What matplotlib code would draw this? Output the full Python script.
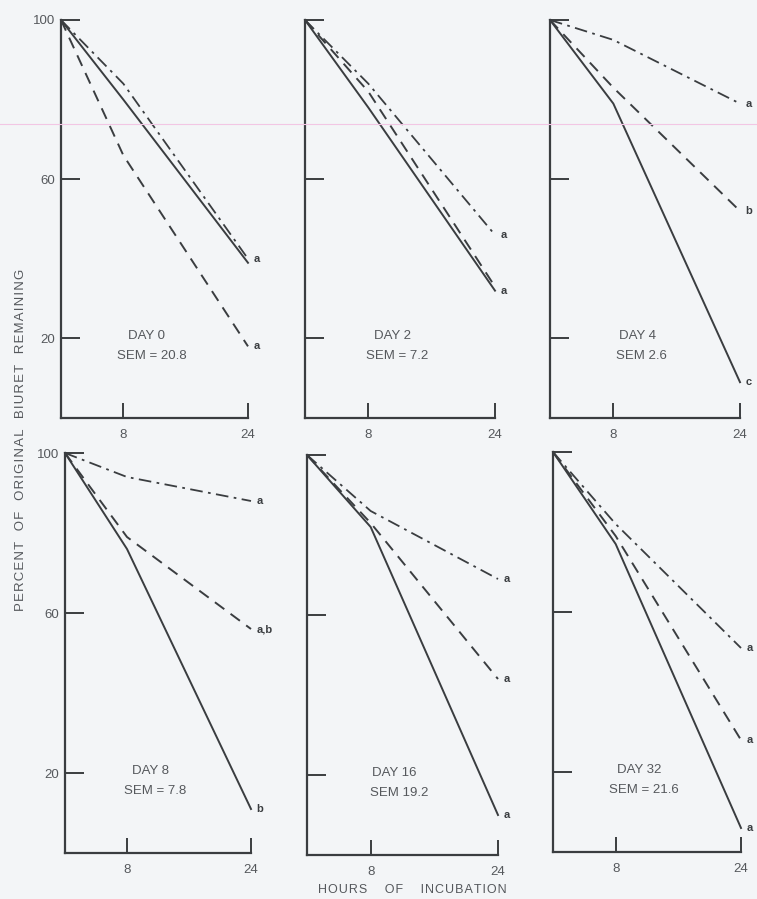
import matplotlib
matplotlib.use("Agg")
import matplotlib.pyplot as plt
from matplotlib.lines import Line2D

plt.rcParams['font.family'] = ['Liberation Sans', 'DejaVu Sans']

# hours of incubation
hours = [0, 8, 24]

# panel titles / SEM text
days = ["DAY 0", "DAY 2", "DAY 4", "DAY 8", "DAY 16", "DAY 32"]
sems = ["SEM = 20.8", "SEM = 7.2", "SEM 2.6", "SEM = 7.8", "SEM 19.2", "SEM = 21.6"]

# percent of original biuret remaining, one list per panel
solid = [[100, 80, 39], [100, 78, 32], [100, 79, 9],
         [100, 76, 11], [100, 82, 10], [100, 77, 6]]
dashed = [[100, 66, 18], [100, 82, 33], [100, 83, 52],
          [100, 79, 56], [100, 83, 44], [100, 79, 28]]
dashdot = [[100, 84, 40], [100, 84, 46], [100, 95, 79],
           [100, 94, 88], [100, 86, 69], [100, 82, 51]]

# significance letters at 24 h
lab_solid = ["", "a", "c", "b", "a", "a"]
lab_dashed = ["a", "", "b", "a,b", "a", "a"]
lab_dashdot = ["a", "a", "a", "a", "a", "a"]

bg = "#f3f5f7"
ink = "#3a3d40"
txt = "#55585c"


def spaced(s, wordgap):
    # slight letter spacing, wide word gaps like the typeset original
    return (" " * wordgap).join("\u200a".join(w) for w in s.split())


fig = plt.figure(figsize=(7.57, 8.99), dpi=100, facecolor=bg)

# axes positions in pixels (left, bottom_y_pixel, right, top_y_pixel)
W, H = 757, 899
boxes = [(61, 418, 248, 20), (305, 418, 495, 20), (550, 418, 740, 20),
         (65, 853, 251, 453), (307, 855, 498, 455), (553, 852, 741, 452)]

for i, (l, b, r, t) in enumerate(boxes):
    ax = fig.add_axes([l / W, (H - b) / H, (r - l) / W, (b - t) / H])
    ax.set_facecolor(bg)
    ax.set_xlim(0, 24)
    ax.set_ylim(0, 100)
    for s in ["top", "right"]:
        ax.spines[s].set_visible(False)
    for s in ["left", "bottom"]:
        ax.spines[s].set_color(ink)
        ax.spines[s].set_linewidth(1.6)

    ax.plot(hours, solid[i], color=ink, lw=1.4, ls="-", clip_on=False)
    ax.plot(hours, dashed[i], color=ink, lw=1.4, ls=(0, (6, 4)), clip_on=False)
    ax.plot(hours, dashdot[i], color=ink, lw=1.3, ls=(0, (7, 3, 1.5, 3)), clip_on=False)

    for vals, lab in [(solid[i], lab_solid[i]), (dashed[i], lab_dashed[i]),
                      (dashdot[i], lab_dashdot[i])]:
        if lab:
            ax.text(24.7, vals[-1], lab, fontsize=8, color=ink,
                    ha="left", va="center", fontweight="bold", clip_on=False)

    ax.set_xticks([8, 24])
    ax.set_xticklabels(["8", "24"])
    ax.set_yticks([100, 60, 20])
    if i % 3 == 0:
        ax.set_yticklabels(["100", "60", "20"])
    else:
        ax.set_yticklabels([])
    ax.tick_params(axis="y", direction="in", length=14, width=1.4, color=ink,
                   labelsize=9.5, labelcolor=txt, pad=4)
    ax.tick_params(axis="x", direction="in", length=11, width=1.4, color=ink,
                   labelsize=9.5, labelcolor=txt, pad=8)

    ax.text(11, 20.5, days[i], fontsize=9.5, color=txt, ha="center", va="center")
    ax.text(11.6, 15.5, sems[i], fontsize=9.5, color=txt, ha="center", va="center")

fig.text(21 / W, 1 - 440 / H, spaced("PERCENT OF ORIGINAL BIURET REMAINING", 3),
         rotation=90, fontsize=9.5, color=txt, ha="center", va="center")
fig.text(412 / W, 1 - 890 / H, spaced("HOURS OF INCUBATION", 5),
         fontsize=9, color=txt, ha="center", va="center")

# faint pink scan line across the top
fig.add_artist(Line2D([0, 1], [1 - 124 / H, 1 - 124 / H], transform=fig.transFigure,
                      color="#f2c6e4", lw=0.8))

fig.savefig("out.png", dpi=100, facecolor=bg)
